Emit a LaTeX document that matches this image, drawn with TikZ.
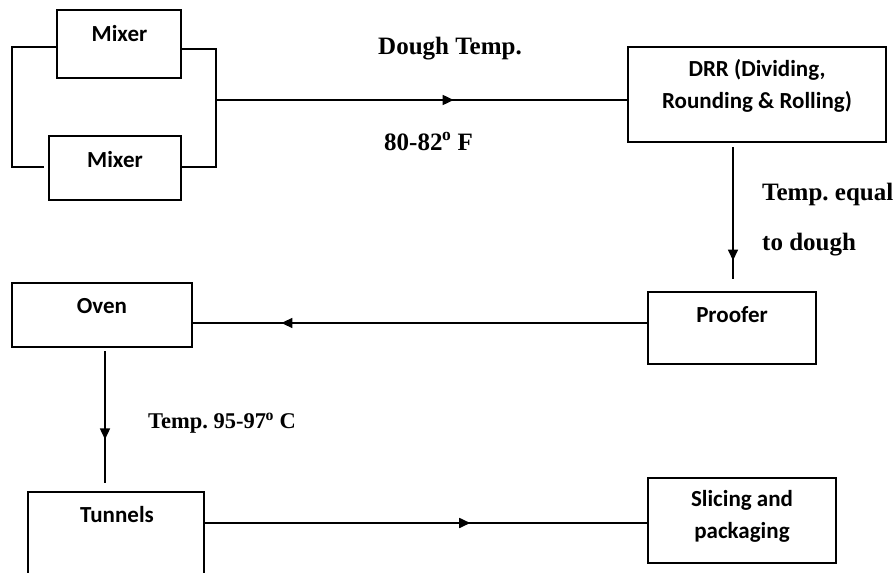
\documentclass[tikz,border=0pt]{standalone}
\usepackage{fontspec}
\setmainfont{Liberation Serif}
\newfontfamily\boxfont{Carlito}
\usetikzlibrary{arrows.meta,decorations.markings}
\frenchspacing
\newcommand{\degsup}{\textsuperscript{\kern-0.5pt o}}
\tikzset{
  box/.style={draw=black,line width=1.6pt,rectangle,inner sep=0pt},
  boxtext/.style={font=\boxfont\bfseries\fontsize{23}{32}\selectfont,inner sep=0pt,anchor=base,align=center},
  lbl/.style={font=\bfseries\fontsize{25}{30}\selectfont,inner sep=0pt,anchor=base west},
  conn/.style={line width=1.6pt},
  midarrow/.style={postaction={decorate},decoration={markings,mark=at position #1 with {\arrow{Triangle[length=11pt,width=10pt]}}}}
}
\begin{document}
\begin{tikzpicture}[x=1pt,y=-1pt]
\useasboundingbox (0,0) rectangle (895,573);
% boxes
\node[box,minimum width=124pt,minimum height=68pt] (m1) at (119,44) {};
\node[box,minimum width=132pt,minimum height=64pt] (m2) at (115,168) {};
\node[box,minimum width=258pt,minimum height=95pt] (drr) at (757,94.5) {};
\node[box,minimum width=168pt,minimum height=72pt] (proof) at (732,328) {};
\node[box,minimum width=180pt,minimum height=64pt] (oven) at (102,315) {};
\node[box,minimum width=176pt,minimum height=86pt] (tun) at (116,535) {};
\node[box,minimum width=188pt,minimum height=85pt] (slice) at (742,520.5) {};
% box texts
\node[boxtext] (m1t) at (119.5,41) {Mixer};
\node[boxtext] (m2t) at (115,167) {Mixer};
\node[boxtext,anchor=north] (drrt) at (757,59) {DRR (Dividing,\\Rounding \& Rolling)};
\node[boxtext] (prt) at (732,322) {Proofer};
\node[boxtext] (ovt) at (102,313) {Oven};
\node[boxtext] (tunt) at (117,522) {Tunnels};
\node[boxtext,anchor=north] (slt) at (742,490) {Slicing and\\packaging};
% labels
\node[lbl] (l1) at (378,54) {Dough Temp.};
\node[lbl] (l2) at (384,150) {80-82\degsup{} F};
\node[lbl] (l3) at (762,200) {Temp. equal};
\node[lbl] (l4) at (762,250) {to dough};
\node[lbl,font=\bfseries\fontsize{22.5}{28}\selectfont] (l5) at (148,428) {Temp. 95-97\degsup{} C};
% coordinates
\coordinate (bl1) at (12,47);
\coordinate (bl2) at (12,167);
\coordinate (br1) at (216,49);
\coordinate (br2) at (216,167);
\coordinate (j) at (216,100);
\coordinate (a1) at (733,147);
\coordinate (a2) at (733,279);
\coordinate (b1) at (105,351);
\coordinate (b2) at (105,483);
% connectors
\draw[conn] (m1.west |- bl1) -- (bl1) -- (bl2) -- ([xshift=-4pt]m2.west |- bl2);
\draw[conn] (m1.east |- br1) -- (br1) -- (br2) -- (m2.east |- br2);
\draw[conn,midarrow=0.578] (j) -- (drr.west |- j);
\draw[conn,midarrow=0.86] (a1) -- (a2);
\draw[conn,midarrow=0.805] (proof.west |- 0,323) -- (oven.east |- 0,323);
\draw[conn,midarrow=0.67] (b1) -- (b2);
\draw[conn,midarrow=0.6] (tun.east |- 0,523) -- (slice.west |- 0,523);
\end{tikzpicture}
\end{document}
